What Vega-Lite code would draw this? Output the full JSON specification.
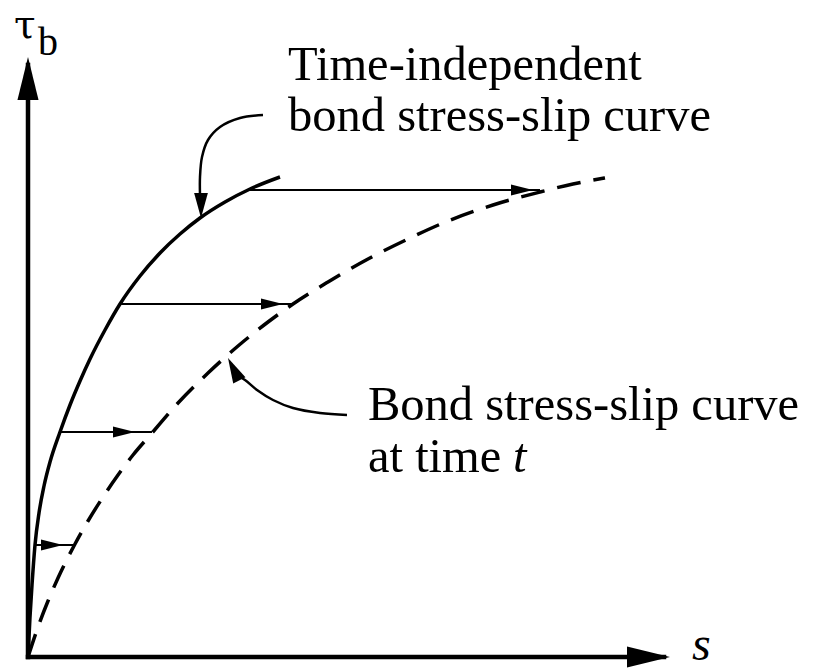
{
  "$schema": "https://vega.github.io/schema/vega-lite/v6.json",
  "width": 816,
  "height": 670,
  "autosize": {"type": "none"},
  "padding": 0,
  "background": "white",
  "config": {"view": {"stroke": null}},
  "datasets": {
    "axes": [
      {"s": 0, "tau": 0, "s2": 0, "tau2": 592},
      {"s": 0, "tau": 0, "s2": 636, "tau2": 0}
    ],
    "axisHeads": [
      {"s": 0, "tau": 600, "heading": 270},
      {"s": 642, "tau": 0, "heading": 0}
    ],
    "timeIndependent": [
      {"s": 0, "tau": 0}, {"s": 2, "tau": 40}, {"s": 4, "tau": 72}, {"s": 7, "tau": 112},
      {"s": 11, "tau": 144}, {"s": 16, "tau": 171}, {"s": 22, "tau": 195}, {"s": 32, "tau": 225},
      {"s": 42, "tau": 252}, {"s": 52, "tau": 276}, {"s": 62, "tau": 298}, {"s": 77, "tau": 327},
      {"s": 92, "tau": 353}, {"s": 112, "tau": 381}, {"s": 132, "tau": 404}, {"s": 152, "tau": 423},
      {"s": 172, "tau": 439}, {"s": 197, "tau": 455}, {"s": 222, "tau": 468}, {"s": 252, "tau": 480}
    ],
    "atTimeT": [
      {"s": 0, "tau": 0}, {"s": 10, "tau": 30}, {"s": 20, "tau": 56}, {"s": 30, "tau": 79},
      {"s": 47, "tau": 113}, {"s": 60, "tau": 136}, {"s": 75, "tau": 160}, {"s": 90, "tau": 182},
      {"s": 105, "tau": 202}, {"s": 124, "tau": 224}, {"s": 150, "tau": 254}, {"s": 180, "tau": 284},
      {"s": 210, "tau": 311}, {"s": 240, "tau": 335}, {"s": 265, "tau": 353}, {"s": 300, "tau": 375},
      {"s": 340, "tau": 398}, {"s": 380, "tau": 418}, {"s": 420, "tau": 436}, {"s": 465, "tau": 452},
      {"s": 512, "tau": 465}, {"s": 545, "tau": 473}, {"s": 577, "tau": 479}
    ],
    "creep": [
      {"from": 7, "to": 47, "tau": 112},
      {"from": 32, "to": 124, "tau": 225},
      {"from": 92, "to": 265, "tau": 353},
      {"from": 220, "to": 512, "tau": 467}
    ],
    "creepHeads": [
      {"s": 35, "tau": 112},
      {"s": 107, "tau": 225},
      {"s": 255, "tau": 353},
      {"s": 505, "tau": 467}
    ],
    "leaders": [
      {"note": "upper", "k": 0, "s": 235, "tau": 542},
      {"note": "upper", "k": 1, "s": 212, "tau": 539},
      {"note": "upper", "k": 2, "s": 192, "tau": 530},
      {"note": "upper", "k": 3, "s": 180, "tau": 517},
      {"note": "upper", "k": 4, "s": 174, "tau": 500},
      {"note": "upper", "k": 5, "s": 172, "tau": 480},
      {"note": "upper", "k": 6, "s": 172, "tau": 462},
      {"note": "lower", "k": 0, "s": 319, "tau": 242},
      {"note": "lower", "k": 1, "s": 292, "tau": 244},
      {"note": "lower", "k": 2, "s": 265, "tau": 249},
      {"note": "lower", "k": 3, "s": 245, "tau": 257},
      {"note": "lower", "k": 4, "s": 229, "tau": 267},
      {"note": "lower", "k": 5, "s": 217, "tau": 277},
      {"note": "lower", "k": 6, "s": 210, "tau": 281}
    ],
    "leaderHeads": [
      {"s": 173, "tau": 439, "heading": 90},
      {"s": 200, "tau": 299, "heading": 243}
    ],
    "captions": [
      {"s": 260, "tau": 577, "text": "Time-independent"},
      {"s": 260, "tau": 526, "text": "bond stress-slip curve"},
      {"s": 340, "tau": 237, "text": "Bond stress-slip curve"},
      {"s": 340, "tau": 185, "text": "at time"}
    ],
    "captionItalic": [
      {"s": 485, "tau": 185, "text": "t"}
    ],
    "slipLabel": [
      {"s": 664, "tau": -3, "text": "s"}
    ],
    "stressSymbol": [
      {"s": -14, "tau": 619, "text": "τ"}
    ],
    "stressSubscript": [
      {"s": 10, "tau": 602, "text": "b"}
    ]
  },
  "layer": [
    {
      "data": {"name": "axes"},
      "mark": {"type": "rule", "strokeWidth": 4.5, "strokeCap": "square", "color": "black"},
      "encoding": {
        "x": {"field": "s", "type": "quantitative", "scale": {"domain": [-28, 788], "nice": false, "zero": false}, "axis": null},
        "x2": {"field": "s2"},
        "y": {"field": "tau", "type": "quantitative", "scale": {"domain": [-13, 657], "nice": false, "zero": false}, "axis": null},
        "y2": {"field": "tau2"}
      }
    },
    {
      "data": {"name": "axisHeads"},
      "mark": {"type": "point", "shape": "M0,0L-2,-0.49L-2,0.49Z", "filled": true, "size": 1849, "color": "black", "opacity": 1, "strokeWidth": 0},
      "encoding": {
        "x": {"field": "s", "type": "quantitative", "scale": {"domain": [-28, 788], "nice": false, "zero": false}, "axis": null},
        "y": {"field": "tau", "type": "quantitative", "scale": {"domain": [-13, 657], "nice": false, "zero": false}, "axis": null},
        "angle": {"field": "heading", "type": "quantitative", "scale": null}
      }
    },
    {
      "data": {"name": "timeIndependent"},
      "mark": {"type": "line", "interpolate": "monotone", "strokeWidth": 3.5, "color": "black"},
      "encoding": {
        "x": {"field": "s", "type": "quantitative", "scale": {"domain": [-28, 788], "nice": false, "zero": false}, "axis": null},
        "y": {"field": "tau", "type": "quantitative", "scale": {"domain": [-13, 657], "nice": false, "zero": false}, "axis": null}
      }
    },
    {
      "data": {"name": "atTimeT"},
      "mark": {"type": "line", "interpolate": "monotone", "strokeWidth": 3.5, "strokeDash": [24, 13], "color": "black"},
      "encoding": {
        "x": {"field": "s", "type": "quantitative", "scale": {"domain": [-28, 788], "nice": false, "zero": false}, "axis": null},
        "y": {"field": "tau", "type": "quantitative", "scale": {"domain": [-13, 657], "nice": false, "zero": false}, "axis": null}
      }
    },
    {
      "data": {"name": "creep"},
      "mark": {"type": "rule", "strokeWidth": 2, "color": "black"},
      "encoding": {
        "x": {"field": "from", "type": "quantitative", "scale": {"domain": [-28, 788], "nice": false, "zero": false}, "axis": null},
        "x2": {"field": "to"},
        "y": {"field": "tau", "type": "quantitative", "scale": {"domain": [-13, 657], "nice": false, "zero": false}, "axis": null}
      }
    },
    {
      "data": {"name": "creepHeads"},
      "mark": {"type": "point", "shape": "M0,0L-2,-0.5L-2,0.5Z", "filled": true, "size": 484, "color": "black", "opacity": 1, "strokeWidth": 0},
      "encoding": {
        "x": {"field": "s", "type": "quantitative", "scale": {"domain": [-28, 788], "nice": false, "zero": false}, "axis": null},
        "y": {"field": "tau", "type": "quantitative", "scale": {"domain": [-13, 657], "nice": false, "zero": false}, "axis": null}
      }
    },
    {
      "data": {"name": "leaders"},
      "mark": {"type": "line", "interpolate": "catmull-rom", "strokeWidth": 2.5, "color": "black"},
      "encoding": {
        "x": {"field": "s", "type": "quantitative", "scale": {"domain": [-28, 788], "nice": false, "zero": false}, "axis": null},
        "y": {"field": "tau", "type": "quantitative", "scale": {"domain": [-13, 657], "nice": false, "zero": false}, "axis": null},
        "detail": {"field": "note"},
        "order": {"field": "k", "type": "quantitative"}
      }
    },
    {
      "data": {"name": "leaderHeads"},
      "mark": {"type": "point", "shape": "M0,0L-2,-0.55L-2,0.55Z", "filled": true, "size": 625, "color": "black", "opacity": 1, "strokeWidth": 0},
      "encoding": {
        "x": {"field": "s", "type": "quantitative", "scale": {"domain": [-28, 788], "nice": false, "zero": false}, "axis": null},
        "y": {"field": "tau", "type": "quantitative", "scale": {"domain": [-13, 657], "nice": false, "zero": false}, "axis": null},
        "angle": {"field": "heading", "type": "quantitative", "scale": null}
      }
    },
    {
      "data": {"name": "captions"},
      "mark": {"type": "text", "align": "left", "baseline": "alphabetic", "font": "Liberation Serif", "fontSize": 48.5, "color": "black"},
      "encoding": {
        "x": {"field": "s", "type": "quantitative", "scale": {"domain": [-28, 788], "nice": false, "zero": false}, "axis": null},
        "y": {"field": "tau", "type": "quantitative", "scale": {"domain": [-13, 657], "nice": false, "zero": false}, "axis": null},
        "text": {"field": "text"}
      }
    },
    {
      "data": {"name": "captionItalic"},
      "mark": {"type": "text", "align": "left", "baseline": "alphabetic", "font": "Liberation Serif", "fontStyle": "italic", "fontSize": 48.5, "color": "black"},
      "encoding": {
        "x": {"field": "s", "type": "quantitative", "scale": {"domain": [-28, 788], "nice": false, "zero": false}, "axis": null},
        "y": {"field": "tau", "type": "quantitative", "scale": {"domain": [-13, 657], "nice": false, "zero": false}, "axis": null},
        "text": {"field": "text"}
      }
    },
    {
      "data": {"name": "slipLabel"},
      "mark": {"type": "text", "align": "left", "baseline": "alphabetic", "font": "Liberation Serif", "fontStyle": "italic", "fontSize": 48, "color": "black"},
      "encoding": {
        "x": {"field": "s", "type": "quantitative", "scale": {"domain": [-28, 788], "nice": false, "zero": false}, "axis": null},
        "y": {"field": "tau", "type": "quantitative", "scale": {"domain": [-13, 657], "nice": false, "zero": false}, "axis": null},
        "text": {"field": "text"}
      }
    },
    {
      "data": {"name": "stressSymbol"},
      "mark": {"type": "text", "align": "left", "baseline": "alphabetic", "font": "DejaVu Serif", "fontSize": 39, "color": "black"},
      "encoding": {
        "x": {"field": "s", "type": "quantitative", "scale": {"domain": [-28, 788], "nice": false, "zero": false}, "axis": null},
        "y": {"field": "tau", "type": "quantitative", "scale": {"domain": [-13, 657], "nice": false, "zero": false}, "axis": null},
        "text": {"field": "text"}
      }
    },
    {
      "data": {"name": "stressSubscript"},
      "mark": {"type": "text", "align": "left", "baseline": "alphabetic", "font": "Liberation Serif", "fontSize": 40, "color": "black"},
      "encoding": {
        "x": {"field": "s", "type": "quantitative", "scale": {"domain": [-28, 788], "nice": false, "zero": false}, "axis": null},
        "y": {"field": "tau", "type": "quantitative", "scale": {"domain": [-13, 657], "nice": false, "zero": false}, "axis": null},
        "text": {"field": "text"}
      }
    }
  ]
}
